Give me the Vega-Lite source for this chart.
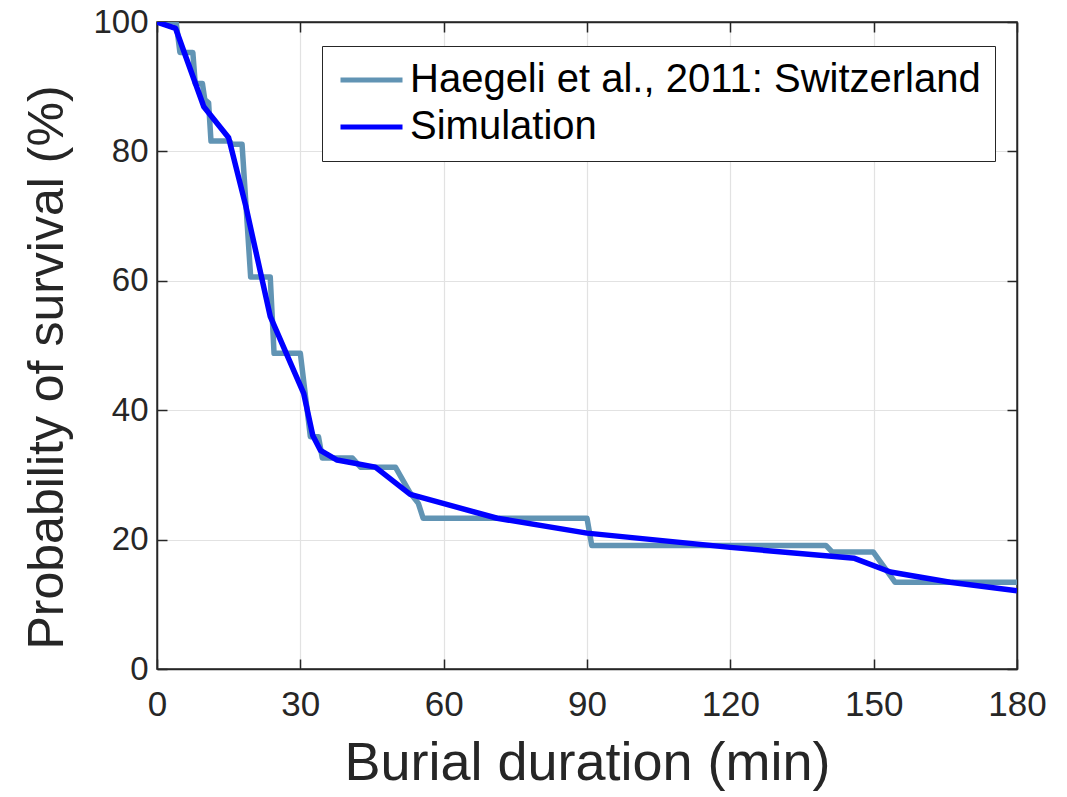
{
  "$schema": "https://vega.github.io/schema/vega-lite/v6.json",
  "autosize": {"type": "none"},
  "padding": {"left": 157, "top": 22, "right": 50, "bottom": 128},
  "width": 860,
  "height": 647,
  "background": "white",
  "config": {
    "font": "Liberation Sans",
    "view": {"stroke": "#262626", "strokeWidth": 1.5},
    "axis": {
      "domainColor": "#262626",
      "domainWidth": 1.5,
      "tickColor": "#262626",
      "tickWidth": 1.5,
      "labelColor": "#262626",
      "titleColor": "#262626",
      "labelFont": "Liberation Sans",
      "titleFont": "Liberation Sans",
      "titleFontWeight": "normal",
      "labelFlush": false,
      "gridColor": "#e2e2e2",
      "gridWidth": 1.2
    },
    "legend": {
      "labelFont": "Liberation Sans"
    }
  },
  "data": {
    "values": [
      {"minute": 0, "survival": 100, "series": "Haegeli et al., 2011: Switzerland"},
      {"minute": 4.0, "survival": 100, "series": "Haegeli et al., 2011: Switzerland"},
      {"minute": 4.8, "survival": 95.3, "series": "Haegeli et al., 2011: Switzerland"},
      {"minute": 7.5, "survival": 95.3, "series": "Haegeli et al., 2011: Switzerland"},
      {"minute": 8.0, "survival": 90.5, "series": "Haegeli et al., 2011: Switzerland"},
      {"minute": 9.5, "survival": 90.5, "series": "Haegeli et al., 2011: Switzerland"},
      {"minute": 10.0, "survival": 88.0, "series": "Haegeli et al., 2011: Switzerland"},
      {"minute": 10.8, "survival": 87.5, "series": "Haegeli et al., 2011: Switzerland"},
      {"minute": 11.3, "survival": 81.6, "series": "Haegeli et al., 2011: Switzerland"},
      {"minute": 15.2, "survival": 81.6, "series": "Haegeli et al., 2011: Switzerland"},
      {"minute": 15.7, "survival": 81.1, "series": "Haegeli et al., 2011: Switzerland"},
      {"minute": 17.8, "survival": 81.1, "series": "Haegeli et al., 2011: Switzerland"},
      {"minute": 19.6, "survival": 60.6, "series": "Haegeli et al., 2011: Switzerland"},
      {"minute": 23.7, "survival": 60.6, "series": "Haegeli et al., 2011: Switzerland"},
      {"minute": 24.5, "survival": 48.8, "series": "Haegeli et al., 2011: Switzerland"},
      {"minute": 30.0, "survival": 48.8, "series": "Haegeli et al., 2011: Switzerland"},
      {"minute": 32.1, "survival": 35.9, "series": "Haegeli et al., 2011: Switzerland"},
      {"minute": 33.8, "survival": 35.9, "series": "Haegeli et al., 2011: Switzerland"},
      {"minute": 34.6, "survival": 32.6, "series": "Haegeli et al., 2011: Switzerland"},
      {"minute": 40.9, "survival": 32.6, "series": "Haegeli et al., 2011: Switzerland"},
      {"minute": 42.6, "survival": 31.2, "series": "Haegeli et al., 2011: Switzerland"},
      {"minute": 49.9, "survival": 31.2, "series": "Haegeli et al., 2011: Switzerland"},
      {"minute": 53.0, "survival": 27.2, "series": "Haegeli et al., 2011: Switzerland"},
      {"minute": 54.7, "survival": 25.6, "series": "Haegeli et al., 2011: Switzerland"},
      {"minute": 55.7, "survival": 23.3, "series": "Haegeli et al., 2011: Switzerland"},
      {"minute": 90.0, "survival": 23.3, "series": "Haegeli et al., 2011: Switzerland"},
      {"minute": 91.0, "survival": 19.1, "series": "Haegeli et al., 2011: Switzerland"},
      {"minute": 140.0, "survival": 19.1, "series": "Haegeli et al., 2011: Switzerland"},
      {"minute": 141.3, "survival": 18.1, "series": "Haegeli et al., 2011: Switzerland"},
      {"minute": 149.9, "survival": 18.1, "series": "Haegeli et al., 2011: Switzerland"},
      {"minute": 154.5, "survival": 13.4, "series": "Haegeli et al., 2011: Switzerland"},
      {"minute": 180, "survival": 13.4, "series": "Haegeli et al., 2011: Switzerland"},
      {"minute": 0, "survival": 100, "series": "Simulation"},
      {"minute": 3.9, "survival": 99.0, "series": "Simulation"},
      {"minute": 9.8, "survival": 86.9, "series": "Simulation"},
      {"minute": 15.0, "survival": 82.1, "series": "Simulation"},
      {"minute": 18.6, "survival": 71.5, "series": "Simulation"},
      {"minute": 23.7, "survival": 54.5, "series": "Simulation"},
      {"minute": 30.7, "survival": 42.6, "series": "Simulation"},
      {"minute": 32.6, "survival": 36.1, "series": "Simulation"},
      {"minute": 34.2, "survival": 33.8, "series": "Simulation"},
      {"minute": 37.7, "survival": 32.3, "series": "Simulation"},
      {"minute": 45.7, "survival": 31.2, "series": "Simulation"},
      {"minute": 53.0, "survival": 27.0, "series": "Simulation"},
      {"minute": 71.2, "survival": 23.3, "series": "Simulation"},
      {"minute": 90.0, "survival": 21.0, "series": "Simulation"},
      {"minute": 120.0, "survival": 18.8, "series": "Simulation"},
      {"minute": 146.0, "survival": 17.1, "series": "Simulation"},
      {"minute": 153.5, "survival": 15.0, "series": "Simulation"},
      {"minute": 166.0, "survival": 13.4, "series": "Simulation"},
      {"minute": 180, "survival": 12.1, "series": "Simulation"}
    ]
  },
  "encoding": {
    "color": {
      "field": "series",
      "type": "nominal",
      "sort": ["Haegeli et al., 2011: Switzerland", "Simulation"],
      "scale": {
        "domain": ["Haegeli et al., 2011: Switzerland", "Simulation"],
        "range": ["#6194b4", "#0000ff"]
      },
      "legend": {
        "title": null,
        "orient": "none",
        "legendX": 165,
        "legendY": 24,
        "direction": "vertical",
        "strokeColor": "#262626",
        "fillColor": "white",
        "padding": 14,
        "symbolType": "M-1,0H3",
        "symbolSize": 961,
        "symbolStrokeWidth": 5,
        "labelFontSize": 40,
        "labelColor": "black",
        "labelLimit": 0,
        "labelOffset": 34,
        "rowPadding": 7
      }
    }
  },
  "layer": [
    {
      "transform": [{"filter": "datum.series === 'Haegeli et al., 2011: Switzerland'"}],
      "mark": {"type": "line", "strokeWidth": 5.5, "strokeJoin": "round", "clip": true},
      "encoding": {
        "x": {
          "field": "minute",
          "type": "quantitative",
          "scale": {"domain": [0, 180], "nice": false, "zero": false},
          "axis": {
            "orient": "bottom",
            "values": [0, 30, 60, 90, 120, 150, 180],
            "title": "Burial duration (min)",
            "titleFontSize": 54,
            "titlePadding": 14,
            "labelFontSize": 35,
            "tickSize": -10,
            "labelPadding": 28,
            "grid": true
          }
        },
        "y": {
          "field": "survival",
          "type": "quantitative",
          "scale": {"domain": [0, 100], "nice": false},
          "axis": {
            "orient": "left",
            "values": [0, 20, 40, 60, 80, 100],
            "title": "Probability of survival (%)",
            "titleFontSize": 50,
            "titlePadding": 20,
            "titleY": 345,
            "labelFontSize": 33,
            "tickSize": -10,
            "labelPadding": 19,
            "grid": true
          }
        }
      }
    },
    {
      "transform": [{"filter": "datum.series === 'Simulation'"}],
      "mark": {"type": "line", "strokeWidth": 5.5, "strokeJoin": "round", "clip": true},
      "encoding": {
        "x": {
          "field": "minute",
          "type": "quantitative",
          "axis": {
            "orient": "top",
            "values": [0, 30, 60, 90, 120, 150, 180],
            "title": null,
            "labels": false,
            "grid": false,
            "tickSize": -10
          }
        },
        "y": {
          "field": "survival",
          "type": "quantitative",
          "axis": {
            "orient": "right",
            "values": [0, 20, 40, 60, 80, 100],
            "title": null,
            "labels": false,
            "grid": false,
            "tickSize": -10
          }
        }
      }
    }
  ],
  "resolve": {"axis": {"x": "independent", "y": "independent"}}
}
